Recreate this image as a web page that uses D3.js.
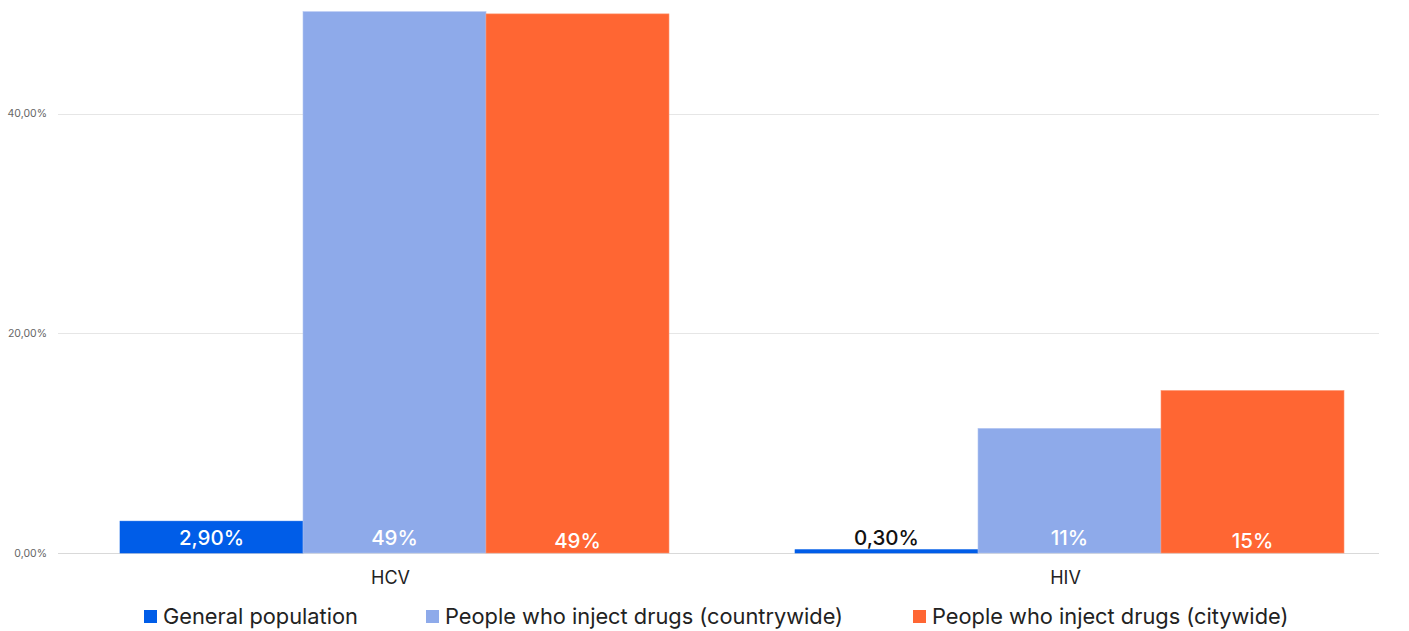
<!DOCTYPE html>
<html><head><meta charset="utf-8">
<script src="https://cdn.jsdelivr.net/npm/d3@7"></script>
<style>body{margin:0;background:#fff;}svg{display:block;font-family:Inter,"Noto Sans",sans-serif;}</style>
</head><body><svg id="c" width="1409" height="631"></svg>
<script>
const categories = ["HCV", "HIV"];
const seriesNames = ["General population", "People who inject drugs (countrywide)", "People who inject drugs (citywide)"];
const generalPopulation = [0.029, 0.003];
const countrywide = [0.493, 0.1135];
const citywide = [0.491, 0.148];
const valueLabels = [["2,90%", "0,30%"], ["49%", "11%"], ["49%", "15%"]];
const yTicks = [0, 0.2, 0.4];
const yTickLabels = ["0,00%", "20,00%", "40,00%"];
const colors = ["#005de8", "#8eaaea", "#ff6633"];
const strokes = ["#005de8", "#b3c6f2", "#ff9570"];

const series = [generalPopulation, countrywide, citywide];
const svg = d3.select("#c");
const y = d3.scaleLinear().domain([0, 0.5]).range([553, 4]);
const x0 = d3.scaleBand().domain(categories).range([120, 1344]).paddingInner(126/675).paddingOuter(0);
const x1 = d3.scaleBand().domain(d3.range(series.length)).range([0, x0.bandwidth()]);

// gridlines
svg.append("g").selectAll("line").data(yTicks).join("line")
  .attr("x1", 58).attr("x2", 1379)
  .attr("y1", d => Math.round(y(d)) + 0.5).attr("y2", d => Math.round(y(d)) + 0.5)
  .attr("stroke", d => d === 0 ? "#d9d9d9" : "#e6e6e6").attr("stroke-width", 1);

// y labels
svg.append("g").selectAll("text").data(yTicks).join("text")
  .attr("x", 47).attr("y", d => y(d) + 3.5)
  .attr("text-anchor", "end").attr("font-size", 10.5).attr("fill", "#666")
  .text((d, i) => yTickLabels[i]);

// bars
series.forEach((vals, s) => {
  const g = svg.append("g");
  g.selectAll("rect").data(vals).join("rect")
    .attr("x", (d, i) => x0(categories[i]) + x1(s))
    .attr("width", x1.bandwidth())
    .attr("y", d => y(d))
    .attr("height", d => y(0) - y(d))
    .attr("fill", colors[s])
    .attr("stroke", strokes[s]).attr("stroke-width", 0.6);
  g.selectAll("text").data(vals).join("text")
    .attr("x", (d, i) => x0(categories[i]) + x1(s) + x1.bandwidth() / 2)
    .attr("y", (d, i) => (s === 2 ? 547.5 : 545))
    .attr("text-anchor", "middle").attr("font-size", 20.5).attr("font-weight", 500)
    .attr("fill", (d) => (y(0) - y(d) < 25 ? "#111" : "#fff"))
    .text((d, i) => valueLabels[s][i]);
});

// category labels
svg.append("g").selectAll("text").data(categories).join("text")
  .attr("x", d => x0(d) + x0.bandwidth() / 2 - 4).attr("y", 584)
  .attr("text-anchor", "middle").attr("font-size", 18).attr("fill", "#222")
  .text(d => d);

// legend
const legendX = [144, 426, 913];
const lg = svg.append("g");
seriesNames.forEach((n, i) => {
  lg.append("rect").attr("x", legendX[i]).attr("y", 610).attr("width", 13).attr("height", 13).attr("fill", colors[i]);
  lg.append("text").attr("x", legendX[i] + 19).attr("y", 624).attr("font-size", 21.8).attr("fill", "#222").text(n);
});
</script></body></html>
